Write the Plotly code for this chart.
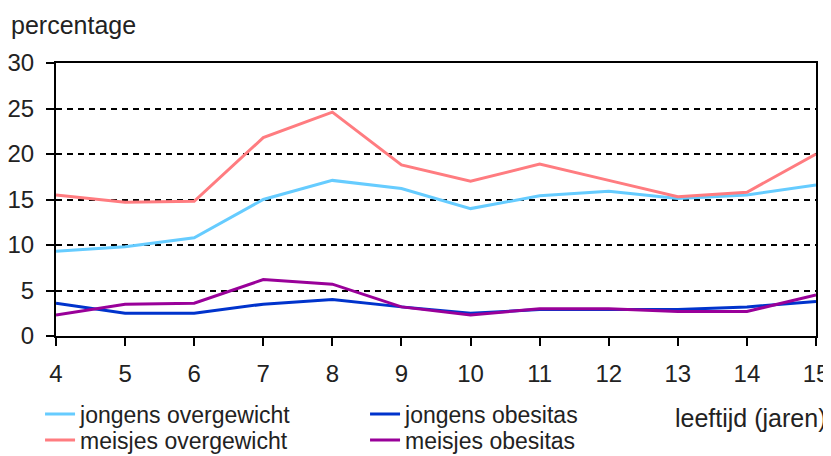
import plotly.graph_objects as go

ages = [4, 5, 6, 7, 8, 9, 10, 11, 12, 13, 14, 15]
jongens_overgewicht = [9.3, 9.8, 10.8, 15.0, 17.1, 16.2, 14.0, 15.4, 15.9, 15.1, 15.5, 16.6]
jongens_obesitas = [3.6, 2.5, 2.5, 3.5, 4.0, 3.2, 2.5, 2.9, 2.9, 2.9, 3.2, 3.8]
meisjes_overgewicht = [15.5, 14.7, 14.8, 21.8, 24.6, 18.8, 17.0, 18.9, 17.1, 15.3, 15.8, 20.0]
meisjes_obesitas = [2.3, 3.5, 3.6, 6.2, 5.7, 3.2, 2.3, 3.0, 3.0, 2.7, 2.7, 4.5]
y_ticks = [0, 5, 10, 15, 20, 25, 30]

FONT = "Liberation Sans, Arial, sans-serif"
FS = 24

fig = go.Figure()
series = [
    ("jongens overgewicht", jongens_overgewicht, "#66CCFF", "legend"),
    ("jongens obesitas", jongens_obesitas, "#0033CC", "legend"),
    ("meisjes overgewicht", meisjes_overgewicht, "#FF7C80", "legend2"),
    ("meisjes obesitas", meisjes_obesitas, "#990099", "legend2"),
]
for name, vals, col, lg in series:
    fig.add_trace(go.Scatter(x=ages, y=vals, name=name, mode="lines",
                             line=dict(color=col, width=3), legend=lg))

legend_common = dict(orientation="h", xanchor="left", yanchor="middle",
                     x=-0.021, font=dict(family=FONT, size=23, color="#222"),
                     bgcolor="rgba(0,0,0,0)", entrywidth=280, entrywidthmode="pixels",
                     itemwidth=30, tracegroupgap=0)

# the page body has an 8px margin, so the figure is 8px smaller than the window
fig.update_layout(
    width=823, height=448,
    margin=dict(l=48, r=15, t=55, b=120, autoexpand=False),
    paper_bgcolor="white", plot_bgcolor="white",
    font=dict(family=FONT, size=FS, color="#222"),
    showlegend=True,
    legend=dict(y=-0.286, **legend_common),
    legend2=dict(y=-0.381, **legend_common),
    xaxis=dict(range=[4, 15], tickvals=ages, ticktext=[str(a) for a in ages],
               showgrid=False, zeroline=False, showline=True, mirror=True,
               linecolor="black", linewidth=2, ticks="outside", ticklen=8,
               tickwidth=2, tickcolor="black", ticklabelstandoff=7),
    yaxis=dict(range=[0, 30], tickvals=y_ticks, showgrid=True, gridcolor="black",
               gridwidth=2, griddash="6px,5px", zeroline=False, showline=True,
               mirror=True, linecolor="black", linewidth=2, ticks="outside",
               ticklen=8, tickwidth=2, tickcolor="black", ticklabelstandoff=7),
    annotations=[
        dict(text="percentage", xref="paper", yref="paper", x=-0.062, y=1.139,
             xanchor="left", yanchor="middle", showarrow=False,
             font=dict(family=FONT, size=25, color="#222")),
        dict(text="leeftijd (jaren)", xref="paper", yref="paper", x=1.0158, y=-0.300,
             xanchor="right", yanchor="middle", showarrow=False,
             font=dict(family=FONT, size=25, color="#222")),
    ],
)

fig.write_html("out.html")
